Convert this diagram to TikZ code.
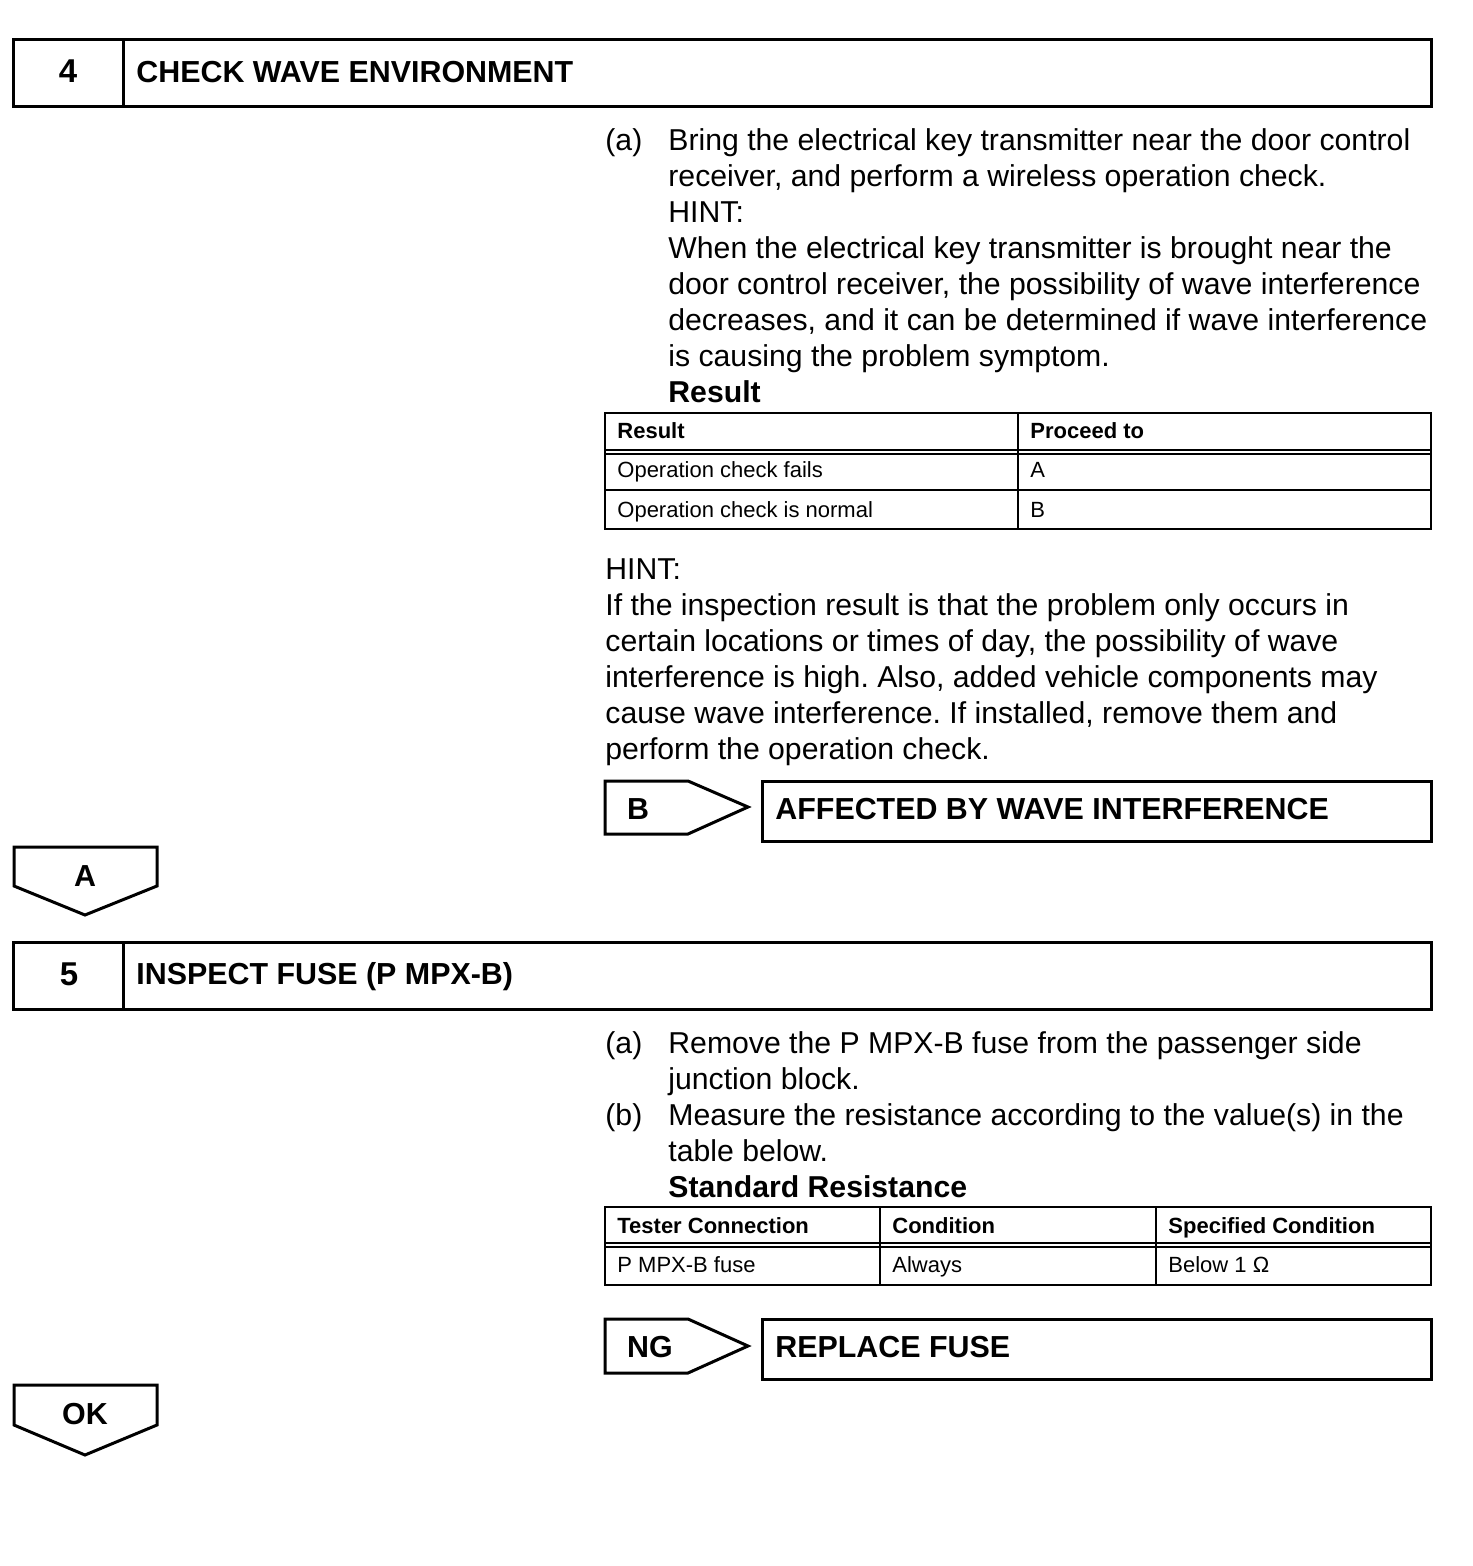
\documentclass[tikz,border=0pt]{standalone}
\usepackage{fontspec}
\setmainfont{Liberation Sans}
\usetikzlibrary{positioning}
\frenchspacing

\begin{document}
\begin{tikzpicture}[
    x=0.5pt, y=-0.5pt,
    frame/.style={draw, line width=1.5pt},
    rule/.style={draw, line width=1pt},
    body/.style={anchor=base west, inner sep=0pt, align=left,
      font=\fontsize{15.1}{18}\selectfont},
    head/.style={anchor=base west, inner sep=0pt,
      font=\fontsize{15.2}{18}\selectfont\bfseries},
    tag/.style={anchor=base, inner sep=0pt,
      font=\fontsize{15.2}{18}\selectfont\bfseries},
    cell/.style={anchor=base west, inner sep=0pt, font=\fontsize{11}{13}\selectfont},
    cellhead/.style={cell, font=\fontsize{11}{13}\selectfont\bfseries},
  ]
  \useasboundingbox (0,0) rectangle (1472,1566);

  % Step 4: header
  \draw[frame] (13,40) rectangle (1431,107);
  \draw[frame] (123,40) -- (123,107);
  \node[tag, font=\fontsize{16.5}{18}\selectfont\bfseries] (num4) at (68,83) {4};
  \node[head] (title4) at (136,83) {CHECK WAVE ENVIRONMENT};

  % Step 4: procedure (multi-line nodes sit on their last baseline)
  \node[body] (a4) at (605,151) {(a)};
  \node[body] (text4) at (668,403) {Bring the electrical key transmitter near the door control\\
    receiver, and perform a wireless operation check.\\
    HINT:\\
    When the electrical key transmitter is brought near the\\
    door control receiver, the possibility of wave interference\\
    decreases, and it can be determined if wave interference\\
    is causing the problem symptom.\\
    \textbf{Result}};

  % Result table
  \draw[rule] (605,413) rectangle (1431,529);
  \draw[rule] (605,450) -- (1431,450);
  \draw[rule] (605,454) -- (1431,454);
  \draw[rule] (605,490) -- (1431,490);
  \draw[rule] (1018,413) -- (1018,529);
  \node[cellhead] (rh1) at (617,439) {Result};
  \node[cellhead] (rh2) at (1030,439) {Proceed to};
  \node[cell] (r11) at (617,478) {Operation check fails};
  \node[cell] (r12) at (1030,478) {A};
  \node[cell] (r21) at (617,517) {Operation check is normal};
  \node[cell] (r22) at (1030,517) {B};

  % Hint
  \node[body] (hint4) at (605,759) {HINT:\\
    If the inspection result is that the problem only occurs in\\
    certain locations or times of day, the possibility of wave\\
    interference is high. Also, added vehicle components may\\
    cause wave interference. If installed, remove them and\\
    perform the operation check.};

  % Branch B
  \draw[frame] (605,781) -- (688,781) -- (748,807) -- (688,834) -- (605,834) -- cycle;
  \node[tag] (tagB) at (638,819) {B};
  \draw[frame] (762,781) rectangle (1431,841);
  \node[head] (resB) at (775,819) {AFFECTED BY WAVE INTERFERENCE};

  % Branch A
  \draw[frame] (14,847) -- (157,847) -- (157,886) -- (85,915) -- (14,886) -- cycle;
  \node[tag] (tagA) at (85,886) {A};

  % Step 5: header
  \draw[frame] (13,942) rectangle (1431,1009);
  \draw[frame] (123,942) -- (123,1009);
  \node[tag, font=\fontsize{16.5}{18}\selectfont\bfseries] (num5) at (69,985) {5};
  \node[head] (title5) at (136,984) {INSPECT FUSE (P MPX-B)};

  % Step 5: procedure
  \node[body] (a5) at (605,1053) {(a)};
  \node[body] (texta5) at (668,1089) {Remove the P MPX-B fuse from the passenger side\\
    junction block.};
  \node[body] (b5) at (605,1125) {(b)};
  \node[body] (textb5) at (668,1197) {Measure the resistance according to the value(s) in the\\
    table below.\\
    \textbf{Standard Resistance}};

  % Resistance table
  \draw[rule] (605,1207) rectangle (1431,1285);
  \draw[rule] (605,1243) -- (1431,1243);
  \draw[rule] (605,1247) -- (1431,1247);
  \draw[rule] (880,1207) -- (880,1285);
  \draw[rule] (1156,1207) -- (1156,1285);
  \node[cellhead] (sh1) at (617,1233) {Tester Connection};
  \node[cellhead] (sh2) at (892,1233) {Condition};
  \node[cellhead] (sh3) at (1168,1233) {Specified Condition};
  \node[cell] (s11) at (617,1272) {P MPX-B fuse};
  \node[cell] (s12) at (892,1272) {Always};
  \node[cell] (s13) at (1168,1272) {Below 1 Ω};

  % Branch NG
  \draw[frame] (605,1319) -- (688,1319) -- (748,1346) -- (688,1373) -- (605,1373) -- cycle;
  \node[tag] (tagNG) at (650,1357) {NG};
  \draw[frame] (762,1319) rectangle (1431,1379);
  \node[head] (resNG) at (775,1357) {REPLACE FUSE};

  % Branch OK
  \draw[frame] (14,1385) -- (157,1385) -- (157,1425) -- (85,1455) -- (14,1425) -- cycle;
  \node[tag] (tagOK) at (85,1424) {OK};
\end{tikzpicture}
\end{document}
